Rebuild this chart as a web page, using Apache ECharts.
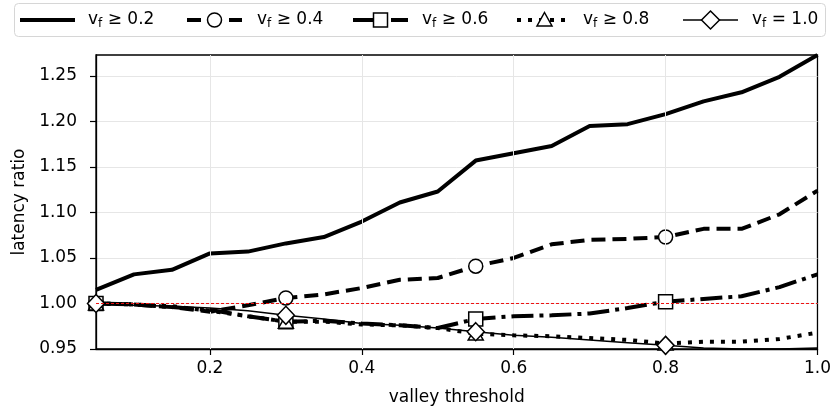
<!DOCTYPE html>
<html><head><meta charset="utf-8">
<script src="https://cdn.jsdelivr.net/npm/echarts@6/dist/echarts.min.js"></script>
<style>html,body{margin:0;padding:0;background:#fff}#c{width:834px;height:412px}</style>
</head><body><div id="c"></div>
<script>
const thresholds = [0.05,0.10,0.15,0.20,0.25,0.30,0.35,0.40,0.45,0.50,0.55,0.60,0.65,0.70,0.75,0.80,0.85,0.90,0.95,1.00];
const vf02 = [1.015,1.032,1.037,1.055,1.057,1.066,1.073,1.090,1.111,1.123,1.157,1.165,1.173,1.195,1.197,1.208,1.222,1.232,1.249,1.273];
const vf04 = [1.000,0.999,0.996,0.991,0.998,1.006,1.010,1.017,1.026,1.028,1.041,1.050,1.065,1.070,1.071,1.073,1.082,1.082,1.098,1.124];
const vf06 = [1.000,0.999,0.996,0.993,0.986,0.980,0.981,0.978,0.976,0.973,0.983,0.986,0.987,0.989,0.995,1.002,1.005,1.008,1.018,1.032];
const vf08 = [1.000,0.999,0.997,0.992,0.986,0.980,0.980,0.977,0.976,0.973,0.967,0.965,0.964,0.962,0.960,0.956,0.958,0.958,0.961,0.968];
const vf10 = [1.000,0.998,0.997,0.995,0.992,0.987,0.983,0.978,0.976,0.973,0.969,0.965,0.963,0.960,0.957,0.954,0.951,0.950,0.950,0.951];
const legendOps = ['≥ 0.2','≥ 0.4','≥ 0.6','≥ 0.8','= 1.0'];
const xTickValues = [0.2,0.4,0.6,0.8,1.0];
const yTickValues = [0.95,1.00,1.05,1.10,1.15,1.20,1.25];
const xAxisName = 'valley threshold';
const yAxisName = 'latency ratio';
const refLine = 1.0;

const FONT = 'DejaVu Sans';
const FS = 17;
const names = legendOps.map(o => 'vf ' + o);
const styles = [
  {values: vf02, symbol: 'none', size: 0, width: 4, type: 'solid', dash: null},
  {values: vf04, symbol: 'circle', size: 14, width: 4, type: [14, 7], dash: [14, 7]},
  {values: vf06, symbol: 'rect', size: 14, width: 4, type: [22, 6, 4, 6], dash: [22, 6, 4, 6]},
  {values: vf08, symbol: 'triangle', size: [15, 13], width: 4, type: [4, 7], dash: [4, 7]},
  {values: vf10, symbol: 'diamond', size: [17, 18], width: 1.5, type: 'solid', dash: null}
];
const series = styles.map((s, k) => {
  const data = thresholds.map((x, i) => (s.symbol !== 'none' && i % 5 === 0)
    ? {value: [x, s.values[i]]}
    : {value: [x, s.values[i]], symbol: 'none'});
  const ser = {
    name: names[k], type: 'line', data: data,
    symbol: s.symbol, symbolSize: s.size, showAllSymbol: true,
    lineStyle: {color: '#000', width: s.width, type: s.type, cap: 'butt'},
    itemStyle: {color: '#fff', borderColor: '#000', borderWidth: 1.5},
    z: 3 + k, clip: true, animation: false
  };
  if (k === 0) {
    ser.markLine = {
      silent: true, symbol: 'none', animation: false, label: {show: false},
      lineStyle: {color: '#e6e6e6', width: 1, type: 'solid'},
      data: xTickValues.slice(0, 4).map(v => ({xAxis: v}))
    };
  }
  return ser;
});
// horizontal reference line at 1.0
series.push({
  name: 'ref', type: 'line', silent: true, symbol: 'none', z: 20, animation: false,
  data: [[thresholds[0], refLine], [thresholds[thresholds.length - 1], refLine]],
  lineStyle: {color: '#ee1111', width: 1, type: [3, 2]},
  itemStyle: {color: '#ee1111'}
});

// legend drawn as graphic elements (icon = line sample + marker, then label)
const legendIconX = [20, 187, 353, 517, 683];
const legendTextX = [88, 257, 422, 583, 752];
const LY = 20, IW = 55;
const graphic = [{
  type: 'rect', shape: {x: 14.5, y: 3.5, width: 811, height: 33, r: 4},
  style: {fill: '#fff', stroke: '#d6d6d6', lineWidth: 1}, z: 100
}];
styles.forEach((s, k) => {
  const x0 = legendIconX[k];
  graphic.push({type: 'line', shape: {x1: x0, y1: LY, x2: x0 + IW, y2: LY},
    style: {stroke: '#000', lineWidth: s.width, lineDash: s.dash, lineCap: 'butt'}, z: 101});
  const cx = x0 + IW / 2;
  const mst = {fill: '#fff', stroke: '#000', lineWidth: 1.5};
  if (s.symbol === 'circle') graphic.push({type: 'circle', shape: {cx: cx, cy: LY, r: 7}, style: mst, z: 102});
  if (s.symbol === 'rect') graphic.push({type: 'rect', shape: {x: cx - 7, y: LY - 7, width: 14, height: 14}, style: mst, z: 102});
  if (s.symbol === 'triangle') graphic.push({type: 'polygon', shape: {points: [[cx, LY - 7.5], [cx + 7.5, LY + 6], [cx - 7.5, LY + 6]]}, style: mst, z: 102});
  if (s.symbol === 'diamond') graphic.push({type: 'polygon', shape: {points: [[cx, LY - 9], [cx + 9, LY], [cx, LY + 9], [cx - 9, LY]]}, style: mst, z: 102});
  graphic.push({type: 'text', x: legendTextX[k], y: LY, z: 102,
    style: {text: 'v{s|f} ' + legendOps[k], fill: '#000', font: FS + 'px "' + FONT + '"', verticalAlign: 'middle', align: 'left',
      rich: {s: {fontSize: 12, fontFamily: FONT, fill: '#000', padding: [7, 0, 0, 0]}}}});
});

const chart = echarts.init(document.getElementById('c'), null, {renderer: 'canvas'});
chart.setOption({
  backgroundColor: '#fff',
  animation: false,
  textStyle: {fontFamily: FONT},
  graphic: graphic,
  grid: {left: 96, right: 16, top: 55, bottom: 63, show: true, borderColor: '#000', borderWidth: 1.3, backgroundColor: 'transparent'},
  xAxis: {
    type: 'value', min: 0.05, max: 1.0,
    name: xAxisName, nameLocation: 'middle', nameGap: 40,
    nameTextStyle: {fontSize: FS, color: '#000', fontFamily: FONT},
    axisLine: {show: true, onZero: false, lineStyle: {color: '#000', width: 1.3}},
    axisTick: {show: true, inside: false, length: 6, customValues: xTickValues, lineStyle: {color: '#000', width: 1.2}},
    axisLabel: {customValues: xTickValues, fontSize: FS, color: '#000', margin: 11, formatter: v => v.toFixed(1), fontFamily: FONT},
    splitLine: {show: false}
  },
  yAxis: {
    type: 'value', min: 0.95, max: 1.273, interval: 0.05,
    name: yAxisName, nameLocation: 'middle', nameGap: 67, nameRotate: 90,
    nameTextStyle: {fontSize: FS, color: '#000', fontFamily: FONT},
    axisLine: {show: true, lineStyle: {color: '#000', width: 1.3}},
    axisTick: {show: true, inside: false, length: 6, customValues: yTickValues, lineStyle: {color: '#000', width: 1.2}},
    axisLabel: {customValues: yTickValues, fontSize: FS, color: '#000', margin: 19, formatter: v => v.toFixed(2), fontFamily: FONT},
    splitLine: {show: true, lineStyle: {color: '#e6e6e6', width: 1}}
  },
  series: series
});
</script></body></html>
